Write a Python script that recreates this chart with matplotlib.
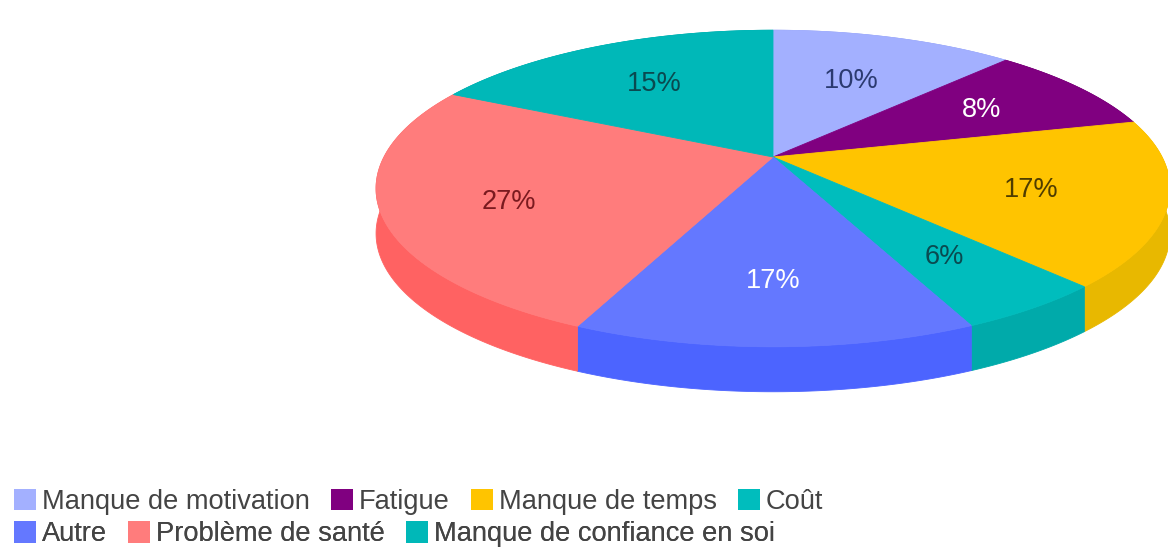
import numpy as np
import matplotlib
matplotlib.use("Agg")
import matplotlib.pyplot as plt
from matplotlib.patches import Patch

# --- data ---
categories = ["Manque de motivation", "Fatigue", "Manque de temps", "Coût",
              "Autre", "Problème de santé", "Manque de confiance en soi"]
values = [10, 8, 17, 6, 17, 27, 15]

# --- style ---
top_colors = ["#A3B0FF", "#800080", "#FFC400", "#00BDBD", "#6478FF", "#FF7C7C", "#00B8B8"]
side_colors = ["#8F9EF0", "#6A006A", "#E8B800", "#00AAAA", "#4C64FF", "#FF6262", "#00A5A5"]
label_colors = ["#2B3A70", "#FFFFFF", "#4F3D00", "#0A4A50", "#FFFFFF", "#7A1A1F", "#0A4A50"]
label_radius = [0.60, 0.66, 0.67, 0.70, 0.70, 0.70, 0.63]
legend_rows = [[0, 1, 2, 3], [4, 5, 6]]

plt.rcParams["font.family"] = ["Liberation Sans", "DejaVu Sans"]
FONT_PT = 19.6

# --- view: pixel-based axes, tilted disc seen in perspective ---
CX, CY, A, B, K = 773.0, 157.0, 389.0, 152.0, 0.199
WARP, WARP2, DEPTH = 0.21, 0.012, 45.0


def project(theta, radius=1.0):
    """Angle clockwise from top (radians) on the disc -> position on the canvas."""
    t = theta + WARP * np.sin(theta) + WARP2 * (1 - np.cos(theta))
    u, v = radius * np.sin(t), radius * np.cos(t)
    d = 1 + K * v
    return CX + A * u / d, CY - B * v / d


fig = plt.figure(figsize=(11.68, 5.47), dpi=100, facecolor="white")
ax = fig.add_axes([0, 0, 1, 1])
ax.set_xlim(0, 1168)
ax.set_ylim(547, 0)
ax.axis("off")

edges = 2 * np.pi * np.cumsum([0] + values) / sum(values)

# extruded rim first, so the top covers its hidden part
for i in range(len(values)):
    th = np.linspace(edges[i], edges[i + 1], 160)
    x, y = project(th)
    ax.fill(np.r_[x, x[::-1]], np.r_[y, y[::-1] + DEPTH],
            color=side_colors[i], lw=0.6, zorder=1)

# top face
for i in range(len(values)):
    th = np.linspace(edges[i], edges[i + 1], 160)
    x, y = project(th)
    ax.fill(np.r_[CX, x], np.r_[CY, y], color=top_colors[i], lw=0.6, zorder=2)

# percentage labels
for i, val in enumerate(values):
    mid = (edges[i] + edges[i + 1]) / 2
    lx, ly = project(mid, label_radius[i])
    ax.text(lx, ly, f"{val}%", color=label_colors[i], fontsize=FONT_PT,
            ha="center", va="center", zorder=3)

# legend, two rows
row_y = [0.0825, 0.0230]
for row, yy in zip(legend_rows, row_y):
    handles = [Patch(facecolor=top_colors[i], edgecolor="none", label=categories[i]) for i in row]
    leg = ax.legend(handles=handles, ncols=len(row), frameon=False, fontsize=FONT_PT,
                    loc="center left", bbox_to_anchor=(0.0119, yy), borderaxespad=0, borderpad=0,
                    handlelength=0.82, handleheight=0.82, handletextpad=0.22,
                    columnspacing=0.76, labelcolor="#444444")
    ax.add_artist(leg)

fig.savefig("out.png", dpi=100, facecolor="white")
